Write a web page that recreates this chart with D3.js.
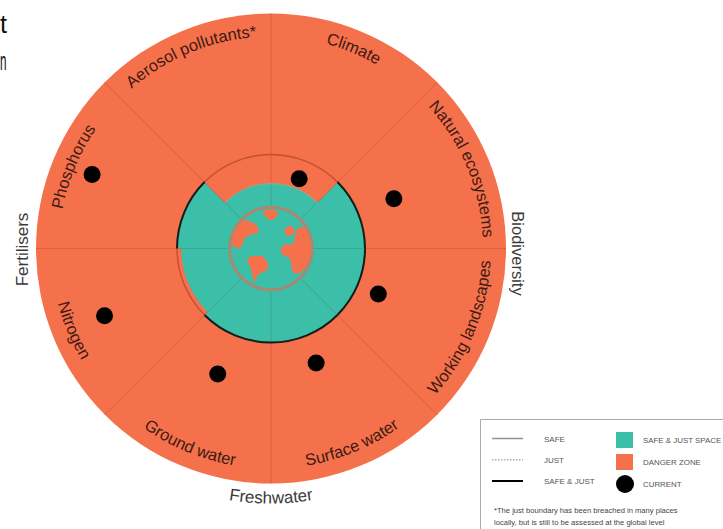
<!DOCTYPE html>
<html><head><meta charset="utf-8">
<script src="https://cdnjs.cloudflare.com/ajax/libs/d3/7.8.5/d3.min.js"></script>
<style>html,body{margin:0;padding:0;background:#fff;overflow:hidden}svg{display:block}text{font-family:"Liberation Sans",Arial,sans-serif}</style>
</head><body><svg id="c" width="723" height="529"></svg>
<script>
// Sectors, clockwise from the top
const categories=["Climate","Natural ecosystems","Working landscapes","Surface water","Ground water","Nitrogen","Phosphorus","Aerosol pollutants*"];
const safeJust=[0.69,1,1,1,1,0.955,1,0.69];
const current=[0.80,1.41,1.24,1.31,1.45,1.91,2.06,null];
const blackBoundary=[false,true,true,true,true,false,true,false];
const currentAngle=[22,68,113,158.5,203,248,292.5,null];
const outerLabels=["Fertilisers","Biodiversity","Freshwater"];
const maxValue=2.5, globeValue=0.44;
// Continents on the unit globe
const continents=[
 [[-.96,-.44],[-.68,-.68],[-.35,-.56],[-.31,-.4],[-.6,-.28],[-.76,0],[-.96,-.12]],
 [[-.19,-.89],[.09,-.93],[.17,-.81],[-.03,-.69]],
 [[-.56,.24],[-.19,.2],[-.07,.48],[-.31,.64],[-.4,.8],[-.48,.52]],
 [[.29,-.08],[.53,-.12],[.61,-.44],[.81,-.52],[.99,-.12],[.94,.28],[.69,.6],[.53,.56],[.45,.24],[.25,.12]],
 [[.33,-.46],[.5,-.55],[.56,-.38],[.4,-.3]]
];
const legendLines=[["SAFE","#9a8f88",1.5,null],["JUST","#b9a8a6",1.5,"1.5 1.5"],["SAFE & JUST","#000",2,null]];
const legendMarks=["SAFE & JUST SPACE","DANGER ZONE","CURRENT"];
const footnote=["*The just boundary has been breached in many places","locally, but is still to be assessed at the global level"];
const clipped=["t","n"];

const ORANGE="#f4714b",TEAL="#3cbfa8",INK="#3f1a14";
const svg=d3.select("#c");
const cx=271,cy=248.5;
const r=d3.scaleLinear().domain([0,maxValue]).range([0,235]);
const step=2*Math.PI/categories.length;
const a=i=>i*step;
const g=svg.append("g").attr("transform",`translate(${cx},${cy})`);

svg.selectAll("text.clip").data(clipped).join("text").attr("class","clip")
 .attr("x",0).attr("y",(d,i)=>33+i*37)
 .attr("textLength",(d,i)=>i?6.5:7).attr("lengthAdjust","spacingAndGlyphs")
 .attr("font-size",25).attr("fill","#111").text(d=>d);

g.append("circle").attr("r",r(maxValue)).attr("fill",ORANGE);
const arc=d3.arc();
g.selectAll("path.space").data(categories).join("path").attr("class","space")
 .attr("fill",TEAL)
 .attr("d",(d,i)=>arc({innerRadius:0,outerRadius:r(safeJust[i]),startAngle:a(i),endAngle:a(i+1)}));

// spokes
const pt=(ang,rad)=>[rad*Math.sin(ang),-rad*Math.cos(ang)];
categories.forEach((d,i)=>{
  const prev=(i+categories.length-1)%categories.length;
  const m=r(Math.min(safeJust[i],safeJust[prev]));
  const p0=pt(a(i),r(globeValue)),p1=pt(a(i),m),p2=pt(a(i),r(maxValue));
  g.append("line").attr("x1",p0[0]).attr("y1",p0[1]).attr("x2",p1[0]).attr("y2",p1[1]).attr("stroke","#36a893").attr("stroke-width",1);
  g.append("line").attr("x1",p1[0]).attr("y1",p1[1]).attr("x2",p2[0]).attr("y2",p2[1]).attr("stroke","#de5f3d").attr("stroke-width",1);
});

// boundaries
g.append("circle").attr("r",r(1)).attr("fill","none").attr("stroke","#c24f33").attr("stroke-width",1.4);
g.selectAll("path.just").data(categories.map((d,i)=>i).filter(i=>safeJust[i]<0.8)).join("path").attr("class","just")
 .attr("fill","none").attr("stroke","#8fa98f").attr("stroke-width",1.2)
 .attr("d",i=>arc({innerRadius:r(safeJust[i]),outerRadius:r(safeJust[i]),startAngle:a(i),endAngle:a(i+1)}));
g.selectAll("path.black").data(categories.map((d,i)=>i).filter(i=>blackBoundary[i])).join("path").attr("class","black")
 .attr("fill","none").attr("stroke","#12201c").attr("stroke-width",2)
 .attr("d",i=>arc({innerRadius:r(1),outerRadius:r(1),startAngle:a(i),endAngle:a(i+1)}));

// globe
const R=r(globeValue);
const defs=svg.append("defs");
defs.append("clipPath").attr("id","gl").append("circle").attr("r",R);
g.append("circle").attr("r",R).attr("fill",TEAL);
const gx=d3.scaleLinear().domain([-1,1]).range([-R,R]);
const line=d3.line().x(d=>gx(d[0])).y(d=>gx(d[1])).curve(d3.curveCatmullRomClosed);
g.append("g").attr("clip-path","url(#gl)").selectAll("path.land").data(continents).join("path").attr("class","land").attr("fill",ORANGE).attr("d",line);
g.append("circle").attr("r",R).attr("fill","none").attr("stroke","#ab8670").attr("stroke-width",3);

// current dots
g.selectAll("circle.cur").data(categories.map((d,i)=>i).filter(i=>current[i]!==null)).join("circle").attr("class","cur")
 .attr("fill","#000").attr("r",8.5)
 .attr("cx",i=>pt(currentAngle[i]*Math.PI/180,r(current[i]))[0])
 .attr("cy",i=>pt(currentAngle[i]*Math.PI/180,r(current[i]))[1]);

// curved labels
function curved(id,text,mid,rad,size,fill){
  const half=1.1, flip=Math.cos(mid)<0;
  const s=flip?mid+half:mid-half,e=flip?mid-half:mid+half;
  const p0=pt(s,rad),p1=pt(e,rad);
  defs.append("path").attr("id",id).attr("d",`M${p0[0]},${p0[1]}A${rad},${rad} 0 0 ${flip?0:1} ${p1[0]},${p1[1]}`);
  g.append("text").attr("font-size",size).attr("fill",fill)
   .append("textPath").attr("href","#"+id).attr("startOffset","50%").attr("text-anchor","middle").text(text);
}
categories.forEach((d,i)=>{
  const mid=a(i)+step/2, flip=Math.cos(mid)<0;
  curved("lab"+i,d,mid,flip?220:212,16.5,INK);
});
svg.append("text").attr("transform","translate(28,249.5) rotate(-90)").attr("text-anchor","middle").attr("font-size",17).attr("fill","#3a3a3a").text(outerLabels[0]);
svg.append("text").attr("transform","translate(512,253.5) rotate(90)").attr("text-anchor","middle").attr("font-size",16.5).attr("fill","#3a3a3a").text(outerLabels[1]);
curved("o2",outerLabels[2],Math.PI,255,17,"#3a3a3a");

// legend
const L=svg.append("g");
L.append("path").attr("d","M723,419.5H480.5V529").attr("fill","none").attr("stroke","#aaa").attr("stroke-width",1);
const rowY=d3.scalePoint().domain(d3.range(3)).range([438.5,481]);
const markY=d3.scalePoint().domain(d3.range(3)).range([440,484]);
legendLines.forEach((d,i)=>{
  L.append("line").attr("x1",492).attr("x2",523).attr("y1",rowY(i)).attr("y2",rowY(i)).attr("stroke",d[1]).attr("stroke-width",d[2]).attr("stroke-dasharray",d[3]);
  L.append("text").attr("x",544).attr("y",rowY(i)+3).attr("font-size",8).attr("fill","#555").text(d[0]);
});
legendMarks.forEach((d,i)=>{
  const y=markY(i);
  if(i<2)L.append("rect").attr("x",616).attr("y",y-8).attr("width",17).attr("height",16).attr("fill",i?ORANGE:TEAL);
  else L.append("circle").attr("cx",625).attr("cy",y).attr("r",9).attr("fill","#000");
  L.append("text").attr("x",643).attr("y",y+3).attr("font-size",7.9).attr("fill","#555").text(d);
});
footnote.forEach((d,i)=>L.append("text").attr("x",494).attr("y",513+i*11.5).attr("font-size",7.6).attr("fill","#444").text(d));
</script></body></html>
